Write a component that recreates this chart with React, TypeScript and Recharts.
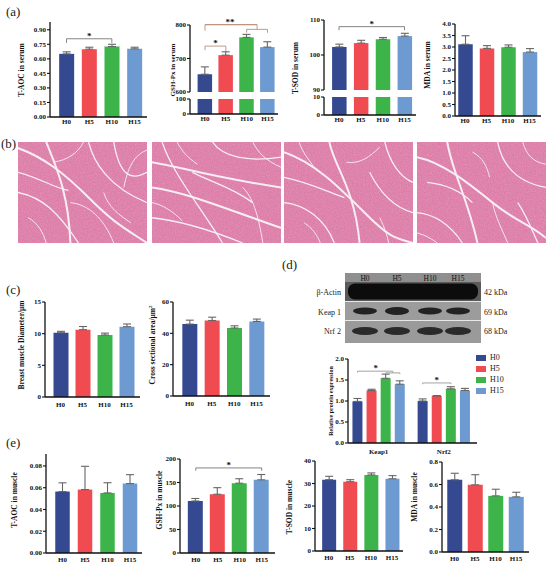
import { Bar, BarChart, Cell, ErrorBar, ReferenceDot, ReferenceLine, XAxis, YAxis } from "recharts";

const groups = ["H0", "H5", "H10", "H15"];
const colors = ["#34498f", "#ef4b51", "#3db44a", "#6d9bd1"];

// (a) serum
const serumTaoc = [0.651, 0.7, 0.727, 0.703];
const serumTaocErr = [0.021, 0.02, 0.023, 0.017];
const serumGsh = [653, 710, 763, 734];
const serumGshErr = [22, 10, 9, 16];
const serumTsod = [102.3, 103.4, 104.5, 105.4];
const serumTsodErr = [0.8, 0.8, 0.5, 0.8];
const serumMda = [3.12, 2.94, 2.99, 2.78];
const serumMdaErr = [0.37, 0.12, 0.1, 0.15];

// (c) muscle morphology
const diameter = [10.15, 10.63, 9.79, 11.1];
const diameterErr = [0.22, 0.5, 0.3, 0.43];
const area = [45.9, 48.2, 43.4, 47.6];
const areaErr = [2.5, 2.1, 1.4, 1.5];

// (d) western blot quantification
const proteins = ["Keap1", "Nrf2"];
const keap1 = [0.99, 1.25, 1.54, 1.4];
const keap1Err = [0.07, 0.03, 0.1, 0.08];
const nrf2 = [1.0, 1.12, 1.29, 1.25];
const nrf2Err = [0.05, 0.01, 0.05, 0.05];
const blotRows = ["β-Actin", "Keap 1", "Nrf 2"];
const blotSizes = ["42 kDa", "69 kDa", "68 kDa"];

// (e) muscle
const muscleTaoc = [0.0565, 0.0583, 0.0552, 0.0638];
const muscleTaocErr = [0.008, 0.0214, 0.0094, 0.0082];
const muscleGsh = [110.7, 125, 148.5, 155.7];
const muscleGshErr = [5.3, 14, 9.5, 11.3];
const muscleTsod = [31.7, 30.8, 33.8, 32.1];
const muscleTsodErr = [1.5, 0.9, 0.9, 1.4];
const muscleMda = [0.642, 0.597, 0.499, 0.49];
const muscleMdaErr = [0.058, 0.09, 0.059, 0.041];

const serif = "'Liberation Serif', 'Times New Roman', serif";
const tickFont = { fontSize: 7, fontWeight: "bold", fontFamily: serif, fill: "#111" };

type Bracket = { a: number; b: number; y: number; la: number; lb: number; text?: string; tx?: number };

type MiniProps = {
  x0: number;
  x1: number;
  yTop: number;
  y0: number;
  cFirst: number;
  cLast: number;
  bw: number;
  domain: [number, number];
  ticks: number[];
  digits: number;
  values: number[];
  errs?: number[];
  showX?: boolean;
  xGap?: number;
  positions?: number[];
  cols?: string[];
  xTicks?: number[];
  xLabels?: string[];
  brackets?: Bracket[];
  bracketColor?: string;
};

function Mini(p: MiniProps) {
  const pos = p.positions ?? [0, 1, 2, 3];
  const cols = p.cols ?? colors;
  const last = pos[pos.length - 1];
  const s = (p.cLast - p.cFirst) / (last - pos[0]);
  const xd: [number, number] = [pos[0] - (p.cFirst - p.x0) / s, last + (p.x1 - p.cLast) / s];
  const XH = p.showX ? 14 : 0;
  const ML = 30;
  const MT = 16;
  const MR = 6;
  const MB = p.showX ? 0 : 6;
  const data = p.values.map((v, i) => ({ x: pos[i], v, e: p.errs ? [0, p.errs[i]] : [0, 0] }));
  const labels = p.xLabels ?? groups;
  const bc = p.bracketColor ?? "#777";
  const segs: any[] = [];
  (p.brackets ?? []).forEach((b, k) => {
    segs.push(
      <ReferenceLine key={`h${k}`} segment={[{ x: b.a, y: b.y }, { x: b.b, y: b.y }]} stroke={bc} strokeWidth={0.9} ifOverflow="visible" />
    );
    segs.push(
      <ReferenceLine key={`l${k}`} segment={[{ x: b.a, y: b.y }, { x: b.a, y: b.la }]} stroke={bc} strokeWidth={0.9} ifOverflow="visible" />
    );
    segs.push(
      <ReferenceLine key={`r${k}`} segment={[{ x: b.b, y: b.y }, { x: b.b, y: b.lb }]} stroke={bc} strokeWidth={0.9} ifOverflow="visible" />
    );
    if (b.text) {
      segs.push(
        <ReferenceDot
          key={`t${k}`}
          x={b.tx ?? (b.a + b.b) / 2}
          y={b.y}
          r={0}
          fill="none"
          stroke="none"
          ifOverflow="visible"
          label={{ value: b.text, position: "top", offset: 0, fontSize: 9, fontWeight: "bold", fill: "#111", fontFamily: serif }}
        />
      );
    }
  });
  return (
    <div style={{ position: "absolute", left: p.x0 - ML, top: p.yTop - MT }}>
      <BarChart
        width={ML + (p.x1 - p.x0) + MR}
        height={MT + (p.y0 - p.yTop) + XH + MB}
        data={data}
        margin={{ top: MT, right: MR, bottom: MB, left: 0 }}
      >
        <XAxis
          type="number"
          dataKey="x"
          domain={xd}
          allowDataOverflow
          ticks={p.xTicks ?? pos}
          interval={0}
          tickFormatter={(_v: number, i: number) => labels[i]}
          hide={!p.showX}
          height={XH}
          tickLine={false}
          tickSize={2}
          tickMargin={p.xGap ?? 0}
          axisLine={{ stroke: "#111", strokeWidth: 1.3 }}
          tick={tickFont}
        />
        <YAxis
          type="number"
          domain={p.domain}
          allowDataOverflow
          ticks={p.ticks}
          interval={0}
          width={ML}
          tickFormatter={(v: number) => v.toFixed(p.digits)}
          tickSize={3}
          tickMargin={1}
          tickLine={{ stroke: "#111", strokeWidth: 1.1 }}
          axisLine={{ stroke: "#111", strokeWidth: 1.3 }}
          tick={tickFont}
        />
        <Bar dataKey="v" barSize={p.bw} isAnimationActive={false}>
          {data.map((_d, i) => (
            <Cell key={i} fill={cols[i]} />
          ))}
          {p.errs && <ErrorBar dataKey="e" width={4} stroke="#666" strokeWidth={1.1} />}
        </Bar>
        {segs}
      </BarChart>
    </div>
  );
}

function VLabel({ x, y, children, size = 7.5 }: { x: number; y: number; children: any; size?: number }) {
  return (
    <div
      style={{
        position: "absolute",
        left: x,
        top: y,
        transform: "translate(-50%, -50%) rotate(-90deg)",
        whiteSpace: "nowrap",
        fontSize: size,
        fontWeight: "bold",
        fontFamily: serif,
        color: "#111",
        lineHeight: 1,
      }}
    >
      {children}
    </div>
  );
}

function PanelTag({ x, y, t }: { x: number; y: number; t: string }) {
  return (
    <div style={{ position: "absolute", left: x, top: y, fontSize: 13, fontFamily: serif, color: "#222", lineHeight: 1 }}>{t}</div>
  );
}

// decorative vein outlines for the H&E sections (not data)
const veinSets = [
  ["M0,6 C25,15 45,30 70,55 S105,85 128,100", "M28,0 C38,25 50,50 52,100", "M70,0 C75,20 90,45 128,60", "M0,50 C25,55 40,70 60,100", "M95,0 C100,30 110,40 128,30", "M0,30 C20,35 35,45 50,48", "M52,60 C70,62 85,75 95,100", "M35,20 C50,18 60,10 65,0", "M85,50 C90,65 100,72 112,80", "M10,75 C20,80 25,90 28,100", "M105,45 C110,20 118,12 128,8"],
  ["M0,20 C30,25 60,35 128,45", "M0,45 C35,50 70,65 128,85", "M10,0 C20,30 45,60 70,100", "M0,75 C30,78 60,88 90,100", "M60,0 C70,15 95,20 128,15", "M40,30 C60,40 80,45 100,60", "M90,45 C100,55 105,70 110,100", "M0,60 C10,62 20,68 30,78", "M25,0 C30,10 35,15 45,22", "M100,0 C105,10 112,18 128,25"],
  ["M0,10 C30,20 55,45 80,70 S110,95 128,100", "M45,0 C50,25 70,45 75,100", "M0,60 C20,62 40,75 50,100", "M100,0 C105,20 115,35 128,40", "M0,35 C25,40 45,50 60,55", "M85,30 C95,50 110,65 128,70", "M15,0 C18,10 25,18 30,25", "M62,20 C75,22 85,15 95,5", "M95,75 C100,85 102,92 104,100", "M20,80 C28,85 33,92 36,100"],
  ["M0,15 C25,20 50,40 75,60 S110,80 128,95", "M30,0 C35,30 50,55 60,100", "M80,0 C85,25 100,40 128,45", "M0,70 C20,72 35,85 45,100", "M100,60 C110,75 115,90 120,100", "M10,40 C30,42 45,50 55,60", "M55,10 C65,15 70,25 72,35", "M75,60 C78,75 85,88 90,100", "M105,0 C108,12 115,20 128,22", "M0,90 C8,92 15,96 20,100"],
];
const sectionX = [18, 152, 284, 417];

function Section({ x, k }: { x: number; k: number }) {
  return (
    <svg style={{ position: "absolute", left: x, top: 142 }} width={129} height={101} viewBox="0 0 128 100" preserveAspectRatio="none">
      <defs>
        <filter id={`tex${k}`}>
          <feTurbulence type="fractalNoise" baseFrequency="0.9" numOctaves={2} seed={k + 3} />
          <feColorMatrix type="matrix" values="0 0 0 0 1  0 0 0 0 1  0 0 0 0 1  0 0 0 0.55 0" />
        </filter>
      </defs>
      <rect width={128} height={100} fill="#d9709f" />
      <rect width={128} height={100} filter={`url(#tex${k})`} opacity={0.5} />
      {veinSets[k].map((d, i) => (
        <path key={i} d={d} stroke="#f6eef3" strokeWidth={i < 2 ? 2 : i < 6 ? 1.3 : 0.9} fill="none" />
      ))}
    </svg>
  );
}

const laneX = [20, 52, 85, 113];

function Blot() {
  return (
    <>
      <svg style={{ position: "absolute", left: 345, top: 273 }} width={136} height={70}>
        <rect width={136} height={70} fill="#8f8f8f" />
        <rect y={9} width={136} height={19} fill="#5a5a5a" />
        <rect y={29} width={136} height={18} fill="#9c9c9c" />
        <rect y={48} width={136} height={22} fill="#9a9a9a" />
        <line x1={0} x2={136} y1={28.5} y2={28.5} stroke="#e8e8e8" strokeWidth={1} />
        <line x1={0} x2={136} y1={47.5} y2={47.5} stroke="#e8e8e8" strokeWidth={1} />
        <rect x={3} y={10.5} width={130} height={16} rx={7} fill="#0c0c0c" />
        {laneX.map((lx, i) => (
          <ellipse key={`k${i}`} cx={lx} cy={38} rx={12} ry={i === 1 ? 4 : 3.4} fill="#222" />
        ))}
        {laneX.map((lx, i) => (
          <ellipse key={`n${i}`} cx={lx} cy={58} rx={13} ry={4} fill="#2a2a2a" />
        ))}
        {groups.map((g, i) => (
          <text key={g} x={laneX[i]} y={7.5} textAnchor="middle" fontSize={7.5} fontFamily={serif} fill="#111">
            {g}
          </text>
        ))}
      </svg>
      {blotRows.map((r, i) => (
        <div key={r} style={{ position: "absolute", right: 550 - 341, top: 288 + i * 19.5, fontSize: 8, fontFamily: serif, color: "#222", whiteSpace: "nowrap" }}>
          {r}
        </div>
      ))}
      {blotSizes.map((r, i) => (
        <div key={r} style={{ position: "absolute", left: 484, top: 288 + i * 19.5, fontSize: 8, fontFamily: serif, color: "#222", whiteSpace: "nowrap" }}>
          {r}
        </div>
      ))}
    </>
  );
}

export default function App() {
  return (
    <div style={{ position: "fixed", left: 0, top: 0, width: 550, height: 567, background: "#fff", overflow: "hidden", fontFamily: serif }}>
      <PanelTag x={6} y={5} t="(a)" />
      <PanelTag x={1} y={137} t="(b)" />
      <PanelTag x={6} y={283} t="(c)" />
      <PanelTag x={282} y={258} t="(d)" />
      <PanelTag x={6} y={436} t="(e)" />

      {/* (a) */}
      <Mini x0={50} x1={147} yTop={22} y0={117} cFirst={66.5} cLast={134.5} bw={15} domain={[0, 0.98]}
        ticks={[0, 0.15, 0.3, 0.45, 0.6, 0.75, 0.9]} digits={2} values={serumTaoc} errs={serumTaocErr} showX
        brackets={[{ a: 0, b: 2, y: 0.807, la: 0.765, lb: 0.765, text: "*" }]} />
      <VLabel x={22} y={70}>T-AOC in serum</VLabel>

      <Mini x0={190} x1={278} yTop={25} y0={92} cFirst={205} cLast={267.5} bw={14.5} domain={[600, 800]}
        ticks={[600, 700, 800]} digits={0} values={serumGsh} errs={serumGshErr} bracketColor="#b8907a"
        brackets={[
          { a: 0, b: 1, y: 737, la: 725, lb: 722, text: "*" },
          { a: 0, b: 2.5, y: 801, la: 783, lb: 787 },
          { a: 2, b: 3, y: 787, la: 777, lb: 777 },
          { a: 0, b: 2.5, y: 801, la: 801, lb: 801, text: "**", tx: 1.2 },
        ]} />
      <Mini x0={190} x1={278} yTop={99} y0={114} cFirst={205} cLast={267.5} bw={14.5} domain={[0, 100]}
        ticks={[0, 100]} digits={0} values={serumGsh} showX />
      <VLabel x={173} y={70} size={7}>GSH-Px in serum</VLabel>

      <Mini x0={324} x1={416} yTop={20} y0={90} cFirst={339} cLast={404.5} bw={14.5} domain={[90, 110]}
        ticks={[90, 100, 110]} digits={0} values={serumTsod} errs={serumTsodErr}
        brackets={[{ a: 0, b: 3, y: 108.1, la: 107.1, lb: 107.1, text: "*" }]} />
      <Mini x0={324} x1={416} yTop={97} y0={115} cFirst={339} cLast={404.5} bw={14.5} domain={[0, 10]}
        ticks={[0, 10]} digits={0} values={serumTsod} showX />
      <VLabel x={296} y={68}>T-SOD in serum</VLabel>

      <Mini x0={455} x1={541} yTop={24} y0={116} cFirst={465} cLast={529.5} bw={14.5} domain={[0, 4]}
        ticks={[0, 0.5, 1, 1.5, 2, 2.5, 3, 3.5, 4]} digits={1} values={serumMda} errs={serumMdaErr} showX />
      <VLabel x={428} y={65}>MDA in serum</VLabel>

      {/* (b) */}
      {sectionX.map((x, k) => (
        <Section key={k} x={x} k={k} />
      ))}

      {/* (c) */}
      <Mini x0={45} x1={140} yTop={302} y0={397} cFirst={60.5} cLast={126.5} bw={15} domain={[0, 15]}
        ticks={[0, 5, 10, 15]} digits={0} values={diameter} errs={diameterErr} showX xGap={3} />
      <VLabel x={22} y={345}>Breast muscle Diameter/μm</VLabel>

      <Mini x0={173} x1={270} yTop={302} y0={396} cFirst={189.5} cLast={256.5} bw={15} domain={[0, 60]}
        ticks={[0, 20, 40, 60]} digits={0} values={area} errs={areaErr} showX xGap={3} />
      <VLabel x={152} y={345}>
        Cross sectional area/μm<sup style={{ fontSize: 5 }}>2</sup>
      </VLabel>

      {/* (d) */}
      <Blot />
      <Mini x0={348} x1={477} yTop={359} y0={443} cFirst={357.5} cLast={465} bw={10} domain={[0, 2]}
        ticks={[0, 0.5, 1, 1.5, 2]} digits={1}
        positions={[0, 1, 2, 3, 4.62, 5.62, 6.62, 7.62]}
        values={[...keap1, ...nrf2]} errs={[...keap1Err, ...nrf2Err]} cols={[...colors, ...colors]}
        xTicks={[1.5, 6.12]} xLabels={proteins} showX xGap={4} bracketColor="#999"
        brackets={[
          { a: 0, b: 2.5, y: 1.71, la: 1.68, lb: 1.67, text: "*", tx: 1.3 },
          { a: 2, b: 3, y: 1.67, la: 1.64, lb: 1.64 },
          { a: 4.62, b: 6.62, y: 1.43, la: 1.4, lb: 1.4, text: "*", tx: 5.62 },
        ]} />
      <VLabel x={331} y={401} size={6}>Relative protein expression</VLabel>
      {groups.map((g, i) => (
        <div key={g} style={{ position: "absolute", left: 476, top: 353 + i * 11, display: "flex", alignItems: "center", fontSize: 8, fontFamily: serif, color: "#222" }}>
          <span style={{ display: "inline-block", width: 10, height: 6, background: colors[i], marginRight: 4 }} />
          {g}
        </div>
      ))}

      {/* (e) */}
      <Mini x0={46} x1={142} yTop={454} y0={553} cFirst={62.5} cLast={130} bw={14.5} domain={[0, 0.091]}
        ticks={[0, 0.02, 0.04, 0.06, 0.08]} digits={2} values={muscleTaoc} errs={muscleTaocErr} showX xGap={2} />
      <VLabel x={15} y={500}>T-AOC in muscle</VLabel>

      <Mini x0={180} x1={275} yTop={459} y0={553} cFirst={195.8} cLast={261.7} bw={15} domain={[0, 200]}
        ticks={[0, 50, 100, 150, 200]} digits={0} values={muscleGsh} errs={muscleGshErr} showX xGap={2}
        brackets={[{ a: 0, b: 3, y: 181, la: 175, lb: 175, text: "*" }]} />
      <VLabel x={160} y={500}>GSH-Px in muscle</VLabel>

      <Mini x0={315} x1={403} yTop={461} y0={551} cFirst={328.7} cLast={392} bw={14} domain={[0, 40]}
        ticks={[0, 10, 20, 30, 40]} digits={0} values={muscleTsod} errs={muscleTsodErr} showX xGap={2} />
      <VLabel x={290} y={507}>T-SOD in muscle</VLabel>

      <Mini x0={442} x1={529} yTop={462} y0={552} cFirst={454.5} cLast={516} bw={15} domain={[0, 0.8]}
        ticks={[0, 0.2, 0.4, 0.6, 0.8]} digits={1} values={muscleMda} errs={muscleMdaErr} showX xGap={2} />
      <VLabel x={415} y={497}>MDA in muscle</VLabel>
    </div>
  );
}
